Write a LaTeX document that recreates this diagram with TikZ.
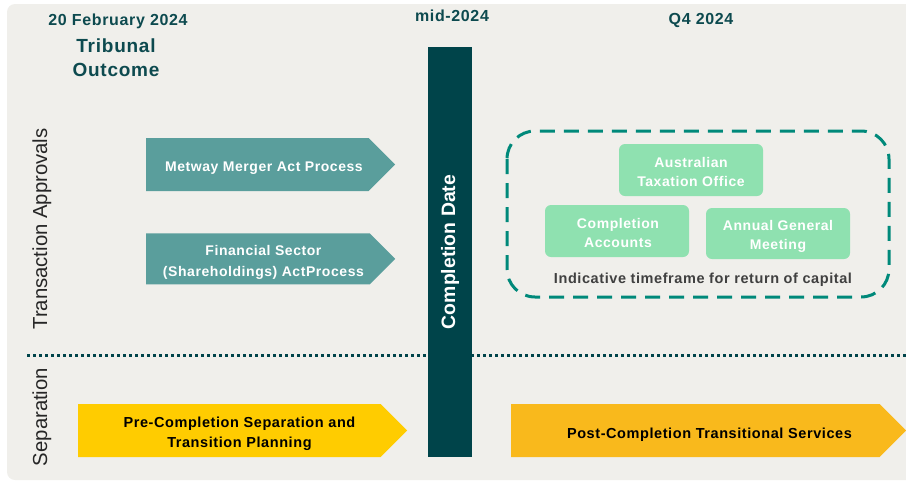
\documentclass[tikz,border=0pt]{standalone}
\usepackage{fontspec}
\setmainfont{Liberation Sans}[LetterSpace=4]
\newfontfamily\plainsans{Liberation Sans}
\usetikzlibrary{positioning, shapes.symbols}

\definecolor{panelgrey}{HTML}{F0EFEB}
\definecolor{darkteal}{HTML}{00444A}
\definecolor{headteal}{HTML}{0D4A4F}
\definecolor{midteal}{HTML}{5A9E9C}
\definecolor{dashteal}{HTML}{00897A}
\definecolor{mint}{HTML}{8FE1B0}
\definecolor{sunyellow}{HTML}{FFCC00}
\definecolor{amber}{HTML}{F9B91C}
\definecolor{notegrey}{HTML}{404040}

\begin{document}
\begin{tikzpicture}[x=1pt, y=-1pt,
		heading/.style={text=headteal, align=center, font=\fontsize{16}{19}\selectfont\bfseries},
		lane/.style={rotate=90, text=black!85, font=\plainsans\fontsize{20.3}{22}\selectfont},
		process/.style={signal, signal to=east, anchor=west, inner sep=0pt, minimum height=53pt},
		approval/.style={process, fill=midteal, minimum width=249pt},
		separation/.style={process},
		approvaltext/.style={text=white, align=center, inner sep=0pt,
			font=\fontsize{14}{20.5}\selectfont\bfseries},
		separationtext/.style={text=black, align=center, inner sep=0pt,
			font=\fontsize{14.5}{20.5}\selectfont\bfseries},
		capital/.style={fill=mint, rounded corners=6pt,
			minimum width=144pt, minimum height=52pt, inner sep=0pt},
		capitaltext/.style={text=white, align=center, inner sep=0pt,
			font=\fontsize{14}{19}\selectfont\bfseries}]

	% panel and page size
	\useasboundingbox (0,0) rectangle (906,483);
	\fill [panelgrey, rounded corners=8pt] (7,4) rectangle (916,480);

	% milestones along the top
	\node [heading]						(feb)		at (118,21)		{20 February 2024};
	\node [heading, font=\fontsize{19}{24}\selectfont\bfseries]
										(tribunal)	at (116,58)		{Tribunal\\Outcome};
	\node [heading]						(mid)		at (452,16)		{mid-2024};
	\node [heading]						(q4)		at (701,20)		{Q4 2024};

	% completion bar
	\node [fill=darkteal, minimum width=44pt, minimum height=410pt, inner sep=0pt]
										(bar)		at (450,252)	{};
	\node [rotate=90, text=white, font=\plainsans\fontsize{19.4}{22}\selectfont\bfseries]
										(completion) at (bar.center) {Completion Date};

	% swim lanes
	\node [lane]						(approvals)	at (42,229)		{Transaction Approvals};
	\node [lane]						(separate)	at (42,417)		{Separation};
	\coordinate (divL) at (27,355);
	\coordinate (divR) at (906,355);
	\draw [darkteal, line width=3pt, dash pattern=on 3pt off 3pt] (divL) -- (divR);

	% approval processes
	\node [approval, label={[approvaltext, xshift=6.5pt, yshift=-4pt]center:Metway Merger Act Process}]
										(metway)	at (146,164.5)	{};
	\node [approval, minimum height=51pt,
		label={[approvaltext, xshift=5.5pt, yshift=-3.5pt]center:{Financial Sector\\(Shareholdings) ActProcess}}]
										(fsa)		[below=42pt of metway.south west, anchor=north west] {};

	% return of capital
	\draw [dashteal, line width=3pt, dash pattern=on 15pt off 9pt, rounded corners=28pt]
		(507,131) rectangle (889,297);
	\node [capital, label={[capitaltext, yshift=-2pt]center:{Australian\\Taxation Office}}]
										(ato)		at (691,170)	{};
	\node [capital, label={[capitaltext, xshift=1pt, yshift=-2pt]center:{Completion\\Accounts}}]
										(accounts)	at (617,231)	{};
	\node [capital, minimum height=51pt, label={[capitaltext, yshift=-3pt]center:{Annual General\\Meeting}}]
										(agm)		at (778,233.5)	{};
	\node [text=notegrey, font=\fontsize{14.5}{17}\selectfont\bfseries]
										(indicative) at (703,280)	{Indicative timeframe for return of capital};

	% separation work
	\node [separation, fill=sunyellow, minimum width=329pt,
		label={[separationtext, xshift=10pt, yshift=-3.5pt]center:{Pre-Completion Separation and\\Transition Planning}}]
										(pre)		at (78,430.5)	{};
	\node [separation, fill=amber, minimum width=395pt,
		label={[separationtext, xshift=14pt, yshift=-4pt]center:Post-Completion Transitional Services}]
										(post)		at (511,430.5)	{};

\end{tikzpicture}
\end{document}
